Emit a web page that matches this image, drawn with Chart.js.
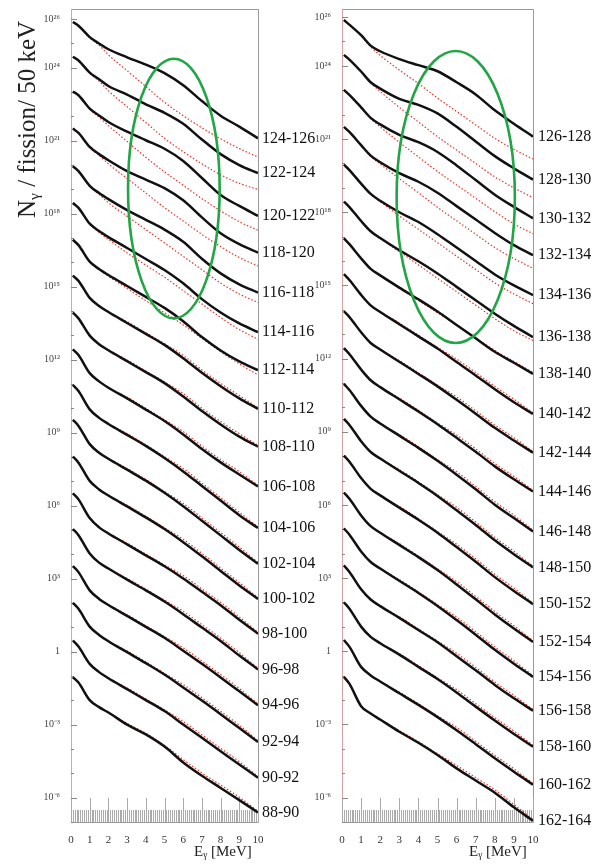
<!DOCTYPE html>
<html>
<head>
<meta charset="utf-8">
<script src="https://cdn.jsdelivr.net/npm/chart.js@4.4.1/dist/chart.umd.min.js"></script>
<style>
  body { margin: 0; background: #fff; width: 594px; height: 865px; position: relative; overflow: hidden; font-family: "Liberation Serif", serif; }
  canvas { position: absolute; top: 0; }
  #left { left: 0; }
  #right { left: 300px; }
  .title { position: absolute; color: #222; white-space: nowrap; line-height: 1; }
  .title sub { font-size: 0.62em; vertical-align: -0.25em; }
  #ytitle { left: 14px; top: 218px; font-size: 25px; transform: rotate(-90deg); transform-origin: 0 0; }
  #xtitle1 { left: 194px; top: 844px; font-size: 15px; }
  #xtitle2 { left: 469px; top: 844px; font-size: 15px; }
</style>
</head>
<body>
<canvas id="left" width="340" height="865"></canvas>
<canvas id="right" width="294" height="865"></canvas>
<div class="title" id="ytitle">N<sub>γ</sub> / fission/ 50 keV</div>
<div class="title" id="xtitle1">E<sub>γ</sub> [MeV]</div>
<div class="title" id="xtitle2">E<sub>γ</sub> [MeV]</div>
<script>
// gamma energy (MeV) where the spectra are sampled
const energy = [0.1, 0.4, 1, 1.5, 2, 3, 4, 5, 6, 7, 8, 9, 10];

// fragment mass bins, top to bottom
const leftLabels = ["124-126", "122-124", "120-122", "118-120", "116-118", "114-116", "112-114", "110-112",
  "108-110", "106-108", "104-106", "102-104", "100-102", "98-100", "96-98", "94-96", "92-94", "90-92", "88-90"];
const rightLabels = ["126-128", "128-130", "130-132", "132-134", "134-136", "136-138", "138-140", "140-142",
  "142-144", "144-146", "146-148", "148-150", "150-152", "152-154", "154-156", "156-158", "158-160", "160-162", "162-164"];

// log10 of N / fission / 50 keV (scaled spectra as drawn), measured
const leftDataLog = [
  [25.88, 25.73, 25.26, 25.0, 24.76, 24.43, 24.13, 23.78, 23.28, 22.63, 22.03, 21.58, 21.1],
  [24.45, 24.3, 23.8, 23.53, 23.25, 22.9, 22.5, 22.15, 21.7, 21.05, 20.45, 20.0, 19.67],
  [23.02, 22.87, 22.32, 22.04, 21.77, 21.37, 21.02, 20.67, 20.17, 19.47, 18.77, 18.32, 17.91],
  [21.5, 21.32, 20.75, 20.45, 20.2, 19.75, 19.4, 19.05, 18.55, 17.85, 17.2, 16.75, 16.4],
  [19.95, 19.75, 19.15, 18.85, 18.6, 18.15, 17.75, 17.35, 16.85, 16.15, 15.55, 15.1, 14.76],
  [18.44, 18.24, 17.59, 17.29, 17.04, 16.59, 16.14, 15.69, 15.14, 14.49, 13.94, 13.49, 13.13],
  [16.93, 16.71, 16.03, 15.73, 15.48, 15.03, 14.58, 14.13, 13.58, 12.93, 12.38, 11.93, 11.57],
  [15.46, 15.24, 14.54, 14.21, 13.96, 13.51, 13.06, 12.61, 12.06, 11.46, 10.91, 10.41, 9.98],
  [13.94, 13.7, 12.99, 12.64, 12.39, 11.94, 11.49, 11.04, 10.49, 9.89, 9.34, 8.84, 8.43],
  [12.43, 12.19, 11.45, 11.11, 10.85, 10.41, 9.95, 9.48, 8.93, 8.33, 7.78, 7.28, 6.79],
  [10.96, 10.71, 9.96, 9.61, 9.36, 8.91, 8.46, 7.96, 7.41, 6.81, 6.21, 5.61, 5.08],
  [9.53, 9.28, 8.53, 8.18, 7.93, 7.48, 7.03, 6.53, 5.98, 5.38, 4.78, 4.18, 3.61],
  [8.02, 7.77, 7.02, 6.67, 6.42, 5.97, 5.52, 5.04, 4.5, 3.92, 3.32, 2.72, 2.17],
  [6.51, 6.26, 5.49, 5.11, 4.86, 4.41, 3.96, 3.51, 3.01, 2.46, 1.91, 1.31, 0.74],
  [5.04, 4.79, 4.04, 3.66, 3.42, 2.96, 2.52, 2.06, 1.54, 0.99, 0.44, -0.16, -0.73],
  [3.52, 3.27, 2.52, 2.17, 1.92, 1.47, 1.02, 0.57, 0.04, -0.5, -1.06, -1.63, -2.2],
  [2.01, 1.76, 1.03, 0.69, 0.43, -0.02, -0.47, -0.94, -1.47, -2.01, -2.57, -3.14, -3.71],
  [0.46, 0.21, -0.5, -0.84, -1.09, -1.54, -1.99, -2.44, -2.99, -3.54, -4.09, -4.64, -5.18],
  [-1.05, -1.27, -1.99, -2.28, -2.5, -3.0, -3.4, -3.9, -4.55, -5.1, -5.6, -6.1, -6.61]
];
const leftModelLog = [
  [25.88, 25.73, 25.23, 24.93, 24.53, 23.88, 23.23, 22.58, 22.03, 21.53, 21.08, 20.68, 20.33],
  [24.45, 24.3, 23.77, 23.45, 23.05, 22.4, 21.75, 21.1, 20.55, 20.05, 19.6, 19.25, 19.0],
  [23.02, 22.87, 22.3, 21.97, 21.62, 20.97, 20.32, 19.72, 19.17, 18.62, 18.12, 17.67, 17.32],
  [21.5, 21.32, 20.72, 20.4, 20.05, 19.45, 18.85, 18.25, 17.7, 17.15, 16.65, 16.2, 15.85],
  [19.95, 19.75, 19.13, 18.8, 18.45, 17.9, 17.35, 16.8, 16.25, 15.7, 15.15, 14.7, 14.35],
  [18.44, 18.24, 17.58, 17.24, 16.94, 16.39, 15.89, 15.39, 14.84, 14.29, 13.74, 13.24, 12.84],
  [16.93, 16.71, 16.03, 15.71, 15.43, 14.93, 14.43, 13.93, 13.43, 12.88, 12.33, 11.83, 11.38],
  [15.46, 15.24, 14.54, 14.21, 13.96, 13.56, 13.11, 12.66, 12.18, 11.58, 11.03, 10.53, 10.03],
  [13.94, 13.7, 12.99, 12.64, 12.39, 11.99, 11.54, 11.09, 10.61, 10.01, 9.46, 8.96, 8.48],
  [12.43, 12.19, 11.45, 11.11, 10.85, 10.46, 10.0, 9.53, 9.05, 8.45, 7.9, 7.4, 6.84],
  [10.96, 10.71, 9.96, 9.61, 9.36, 8.96, 8.51, 8.01, 7.53, 6.93, 6.33, 5.73, 5.13],
  [9.53, 9.28, 8.53, 8.18, 7.93, 7.53, 7.08, 6.58, 6.1, 5.5, 4.9, 4.3, 3.66],
  [8.02, 7.77, 7.02, 6.67, 6.42, 6.02, 5.57, 5.09, 4.62, 4.04, 3.44, 2.84, 2.22],
  [6.51, 6.26, 5.49, 5.11, 4.86, 4.46, 4.01, 3.56, 3.13, 2.58, 2.03, 1.43, 0.79],
  [5.04, 4.79, 4.04, 3.66, 3.42, 3.01, 2.57, 2.11, 1.66, 1.11, 0.56, -0.04, -0.68],
  [3.52, 3.27, 2.52, 2.17, 1.92, 1.52, 1.07, 0.62, 0.16, -0.38, -0.94, -1.51, -2.15],
  [2.01, 1.76, 1.03, 0.69, 0.43, 0.03, -0.42, -0.89, -1.35, -1.89, -2.45, -3.02, -3.66],
  [0.46, 0.21, -0.5, -0.84, -1.09, -1.49, -1.94, -2.39, -2.87, -3.42, -3.97, -4.52, -5.13],
  [-1.05, -1.27, -1.99, -2.28, -2.5, -2.95, -3.35, -3.85, -4.43, -4.98, -5.48, -5.98, -6.56]
];
const rightDataLog = [
  [25.88, 25.68, 25.26, 24.83, 24.6, 24.28, 24.03, 23.78, 23.33, 22.83, 22.18, 21.63, 21.1],
  [24.45, 24.25, 23.77, 23.33, 23.07, 22.65, 22.4, 22.05, 21.5, 20.9, 20.3, 19.8, 19.34],
  [23.02, 22.8, 22.3, 21.87, 21.6, 21.17, 20.87, 20.47, 19.92, 19.32, 18.72, 18.22, 17.75],
  [21.5, 21.28, 20.75, 20.32, 20.05, 19.6, 19.25, 18.8, 18.25, 17.7, 17.15, 16.65, 16.24],
  [19.95, 19.72, 19.17, 18.75, 18.47, 18.0, 17.6, 17.1, 16.55, 16.0, 15.45, 15.0, 14.6],
  [18.44, 18.2, 17.64, 17.22, 16.94, 16.44, 15.99, 15.49, 14.94, 14.39, 13.84, 13.34, 12.88],
  [16.93, 16.68, 16.11, 15.68, 15.41, 14.91, 14.43, 13.93, 13.38, 12.83, 12.28, 11.83, 11.37],
  [15.46, 15.21, 14.61, 14.18, 13.91, 13.41, 12.91, 12.41, 11.86, 11.31, 10.74, 10.21, 9.73],
  [13.94, 13.69, 13.08, 12.64, 12.37, 11.87, 11.37, 10.86, 10.31, 9.74, 9.16, 8.64, 8.14],
  [12.43, 12.17, 11.55, 11.11, 10.83, 10.33, 9.83, 9.31, 8.75, 8.18, 7.58, 7.05, 6.55],
  [10.96, 10.7, 10.06, 9.62, 9.34, 8.84, 8.34, 7.81, 7.24, 6.64, 6.01, 5.46, 4.91],
  [9.53, 9.27, 8.61, 8.17, 7.9, 7.4, 6.9, 6.37, 5.78, 5.18, 4.55, 3.98, 3.44],
  [8.02, 7.76, 7.1, 6.66, 6.39, 5.89, 5.39, 4.86, 4.27, 3.67, 3.04, 2.47, 1.93],
  [6.51, 6.24, 5.57, 5.13, 4.86, 4.36, 3.86, 3.33, 2.74, 2.13, 1.51, 0.93, 0.38],
  [5.04, 4.77, 4.09, 3.66, 3.39, 2.89, 2.39, 1.86, 1.28, 0.68, 0.06, -0.51, -1.05],
  [3.52, 3.24, 2.54, 2.12, 1.85, 1.37, 0.87, 0.37, -0.2, -0.78, -1.38, -1.93, -2.44],
  [2.01, 1.73, 1.01, 0.59, 0.33, -0.14, -0.64, -1.14, -1.69, -2.27, -2.84, -3.39, -3.91],
  [0.46, 0.17, -0.64, -0.99, -1.24, -1.72, -2.2, -2.7, -3.24, -3.81, -4.39, -4.94, -5.47],
  [-1.05, -1.35, -2.25, -2.55, -2.8, -3.3, -3.75, -4.25, -4.8, -5.3, -5.8, -6.4, -6.95]
];
const rightModelLog = [
  [25.88, 25.68, 25.23, 24.78, 24.43, 23.83, 23.28, 22.68, 22.13, 21.58, 21.03, 20.58, 20.18],
  [24.45, 24.25, 23.75, 23.3, 22.95, 22.3, 21.7, 21.1, 20.55, 20.0, 19.45, 19.0, 18.6],
  [23.02, 22.8, 22.28, 21.84, 21.5, 20.87, 20.27, 19.67, 19.12, 18.57, 18.02, 17.52, 17.12],
  [21.5, 21.28, 20.74, 20.3, 19.98, 19.38, 18.8, 18.2, 17.65, 17.1, 16.55, 16.1, 15.7],
  [19.95, 19.72, 19.15, 18.73, 18.43, 17.85, 17.3, 16.75, 16.2, 15.65, 15.1, 14.65, 14.25],
  [18.44, 18.2, 17.62, 17.2, 16.92, 16.39, 15.84, 15.29, 14.74, 14.19, 13.64, 13.14, 12.74],
  [16.93, 16.68, 16.11, 15.68, 15.41, 14.88, 14.38, 13.88, 13.38, 12.85, 12.33, 11.88, 11.43],
  [15.46, 15.21, 14.61, 14.18, 13.91, 13.46, 12.96, 12.46, 11.98, 11.43, 10.86, 10.33, 9.78],
  [13.94, 13.69, 13.08, 12.64, 12.37, 11.92, 11.42, 10.91, 10.43, 9.86, 9.28, 8.76, 8.19],
  [12.43, 12.17, 11.55, 11.11, 10.83, 10.38, 9.88, 9.36, 8.87, 8.3, 7.7, 7.17, 6.6],
  [10.96, 10.7, 10.06, 9.62, 9.34, 8.89, 8.39, 7.86, 7.36, 6.76, 6.13, 5.58, 4.96],
  [9.53, 9.27, 8.61, 8.17, 7.9, 7.45, 6.95, 6.42, 5.9, 5.3, 4.67, 4.1, 3.49],
  [8.02, 7.76, 7.1, 6.66, 6.39, 5.94, 5.44, 4.91, 4.39, 3.79, 3.16, 2.59, 1.98],
  [6.51, 6.24, 5.57, 5.13, 4.86, 4.41, 3.91, 3.38, 2.86, 2.25, 1.63, 1.05, 0.43],
  [5.04, 4.77, 4.09, 3.66, 3.39, 2.94, 2.44, 1.91, 1.4, 0.8, 0.18, -0.39, -1.0],
  [3.52, 3.24, 2.54, 2.12, 1.85, 1.42, 0.92, 0.42, -0.08, -0.66, -1.26, -1.81, -2.39],
  [2.01, 1.73, 1.01, 0.59, 0.33, -0.09, -0.59, -1.09, -1.57, -2.15, -2.72, -3.27, -3.86],
  [0.46, 0.17, -0.64, -0.99, -1.24, -1.67, -2.15, -2.65, -3.12, -3.69, -4.27, -4.82, -5.42],
  [-1.05, -1.35, -2.25, -2.55, -2.8, -3.25, -3.7, -4.2, -4.68, -5.18, -5.68, -6.28, -6.9]
];

// labelled decades on the y axis
const yTickLabels = { 26: "10²⁶", 24: "10²⁴", 21: "10²¹", 18: "10¹⁸", 15: "10¹⁵", 12: "10¹²", 9: "10⁹",
  6: "10⁶", 3: "10³", 0: "1", "-3": "10⁻³", "-6": "10⁻⁶" };

// highlighted regions (MeV, log10 y)
const leftEllipse = { x0: 3.05, x1: 7.95, y0: 24.37, y1: 13.7 };
const rightEllipse = { x0: 2.86, x1: 9.05, y0: 24.61, y1: 12.64 };

function buildDatasets(dataLog, modelLog) {
	const sets = [];
	dataLog.forEach((row, i) => {
		sets.push({
			data: row.map((v, j) => ({ x: energy[j], y: 10 ** v })),
			borderColor: "#111",
			borderWidth: 2.5,
			pointRadius: 0,
			cubicInterpolationMode: "monotone",
			order: 1
		});
		sets.push({
			data: modelLog[i].map((v, j) => ({ x: energy[j], y: 10 ** v })),
			borderColor: "#e2362b",
			borderWidth: 1.2,
			borderDash: [1.5, 2],
			pointRadius: 0,
			cubicInterpolationMode: "monotone",
			order: 2
		});
	});
	return sets;
}

function framePlugin(labels, ellipse, labelGap) {
	return {
		id: "frame",
		beforeDatasetsDraw(chart) {
			const { ctx, chartArea: a, scales } = chart;
			ctx.save();
			ctx.strokeStyle = "#999";
			ctx.lineWidth = 1;
			ctx.beginPath();
			ctx.moveTo(a.left, a.top + 0.5);
			ctx.lineTo(a.right + 0.5, a.top + 0.5);
			ctx.lineTo(a.right + 0.5, a.bottom + 0.5);
			ctx.lineTo(a.left, a.bottom + 0.5);
			ctx.stroke();
			ctx.strokeStyle = "#d9a3a3";
			ctx.beginPath();
			ctx.moveTo(a.left + 0.5, a.top);
			ctx.lineTo(a.left + 0.5, a.bottom);
			ctx.stroke();
			// x ticks inside the frame
			ctx.strokeStyle = "#aaa";
			for (let k = 0; k <= 100; k++) {
				const px = Math.round(scales.x.getPixelForValue(k / 10)) + 0.5;
				const len = k % 10 === 0 ? 24 : 12;
				ctx.beginPath();
				ctx.moveTo(px, a.bottom);
				ctx.lineTo(px, a.bottom - len);
				ctx.stroke();
			}
			// y ticks, one per decade
			ctx.strokeStyle = "#888";
			for (let d = -7; d <= 26; d++) {
				const py = Math.round(scales.y.getPixelForValue(10 ** d)) + 0.5;
				const len = yTickLabels[d] ? 6 : 3;
				ctx.beginPath();
				ctx.moveTo(a.left, py);
				ctx.lineTo(a.left + len, py);
				ctx.stroke();
			}
			ctx.restore();
		},
		afterDatasetsDraw(chart) {
			const { ctx, chartArea: a, scales } = chart;
			ctx.save();
			// mass bin labels at the end of each spectrum
			ctx.fillStyle = "#111";
			ctx.font = "16px 'Liberation Serif'";
			ctx.textBaseline = "middle";
			chart.data.datasets.forEach((ds, i) => {
				if (i % 2) return;
				const last = ds.data[ds.data.length - 1];
				ctx.fillText(labels[i / 2], a.right + labelGap, scales.y.getPixelForValue(last.y));
			});
			// green ellipse
			const xl = scales.x.getPixelForValue(ellipse.x0);
			const xr = scales.x.getPixelForValue(ellipse.x1);
			const yt = scales.y.getPixelForValue(10 ** ellipse.y0);
			const yb = scales.y.getPixelForValue(10 ** ellipse.y1);
			ctx.strokeStyle = "#21a545";
			ctx.lineWidth = 2.6;
			ctx.beginPath();
			ctx.ellipse((xl + xr) / 2, (yt + yb) / 2, (xr - xl) / 2, (yb - yt) / 2, 0, 0, Math.PI * 2);
			ctx.stroke();
			ctx.restore();
		}
	};
}

function makeChart(id, dataLog, modelLog, labels, ellipse, geom) {
	new Chart(document.getElementById(id), {
		type: "line",
		data: { datasets: buildDatasets(dataLog, modelLog) },
		options: {
			responsive: false,
			animation: false,
			devicePixelRatio: 1,
			layout: { padding: { top: geom.top, right: geom.right, bottom: 0, left: 0 } },
			plugins: { legend: { display: false }, tooltip: { enabled: false } },
			scales: {
				x: {
					type: "linear",
					min: 0,
					max: 10,
					grid: { display: false },
					border: { display: false },
					ticks: { stepSize: 1, padding: 4, color: "#333", font: { family: "Liberation Serif", size: 11 } },
					afterFit: (s) => { s.height = 43; }
				},
				y: {
					type: "logarithmic",
					min: 1e-7,
					max: geom.max,
					grid: { display: false },
					border: { display: false },
					afterBuildTicks: (s) => {
						const t = [];
						for (let d = -7; d <= 26; d++) t.push({ value: 10 ** d });
						s.ticks = t;
					},
					ticks: {
						autoSkip: false,
						padding: 3,
						color: "#444",
						font: { family: "Liberation Serif", size: 10 },
						callback: (v) => yTickLabels[Math.round(Math.log10(v))] || ""
					},
					afterFit: (s) => { s.width = geom.left; }
				}
			}
		},
		plugins: [framePlugin(labels, ellipse, geom.gap)]
	});
}

makeChart("left", leftDataLog, leftModelLog, leftLabels, leftEllipse, { left: 71, right: 82, top: 5, max: 2.6e26, gap: 4 });
makeChart("right", rightDataLog, rightModelLog, rightLabels, rightEllipse, { left: 42, right: 61, top: 7, max: 2.15e26, gap: 5 });
</script>
</body>
</html>
